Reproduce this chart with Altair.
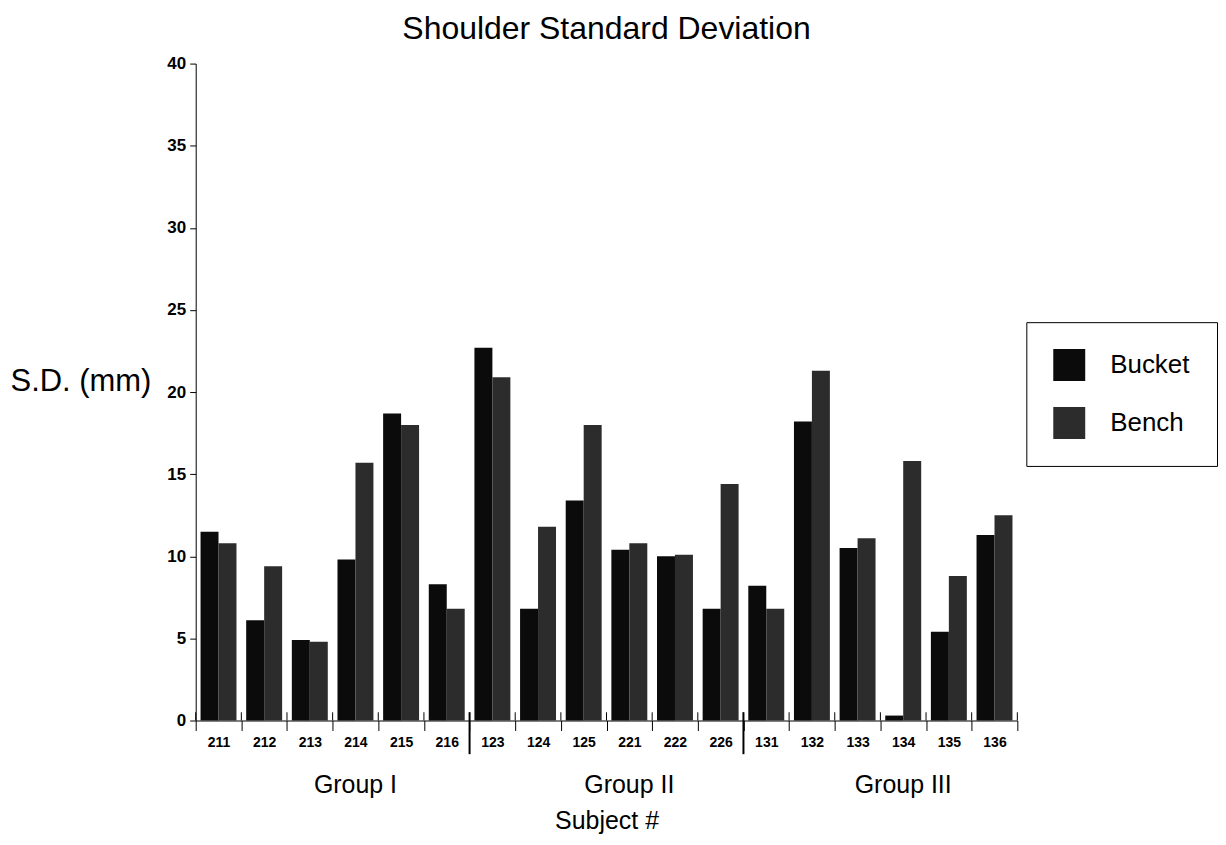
import altair as alt
import pandas as pd

subjects = ["211", "212", "213", "214", "215", "216",
            "123", "124", "125", "221", "222", "226",
            "131", "132", "133", "134", "135", "136"]
bucket = [11.5, 6.1, 4.9, 9.8, 18.7, 8.3,
          22.7, 6.8, 13.4, 10.4, 10.0, 6.8,
          8.2, 18.2, 10.5, 0.3, 5.4, 11.3]
bench = [10.8, 9.4, 4.8, 15.7, 18.0, 6.8,
         20.9, 11.8, 18.0, 10.8, 10.1, 14.4,
         6.8, 21.3, 11.1, 15.8, 8.8, 12.5]
series = ["Bucket", "Bench"]
series_colors = ["#0b0b0b", "#2c2c2c"]
y_ticks = [0, 5, 10, 15, 20, 25, 30, 35, 40]

group_names = ["Group I", "Group II", "Group III"]
group_anchor = ["214", "221", "134"]
group_start = ["123", "131"]

FONT = "Liberation Sans"

rows = []
for s, a, b in zip(subjects, bucket, bench):
    rows.append({"subject": s, "series": "Bucket", "sd": a})
    rows.append({"subject": s, "series": "Bench", "sd": b})
df = pd.DataFrame(rows)

xscale = alt.Scale(domain=subjects, paddingInner=0, paddingOuter=0)
yscale = alt.Scale(domain=[0, 40], nice=False, zero=True)

xaxis = alt.Axis(title="Subject #", labelAngle=0, tickBand="extent",
                 tickSize=10, labelPadding=5, labelFontSize=14,
                 labelFontWeight="bold", titleFontSize=25,
                 titleFontWeight="normal", titlePadding=59,
                 domainColor="black", tickColor="black",
                 labelColor="black", titleColor="black")
yaxis = alt.Axis(title="S.D. (mm)", values=y_ticks, grid=False,
                 tickSize=6, labelPadding=4, labelFontSize=17,
                 labelFontWeight="bold", titleAngle=0, titleAlign="left",
                 titleBaseline="middle", titleX=-186, titleY=318,
                 titleFontSize=31, titleFontWeight="normal",
                 domainColor="black", tickColor="black",
                 labelColor="black", titleColor="black")

bars = alt.Chart(df).mark_bar().encode(
    x=alt.X("subject:N", scale=xscale, sort=subjects, axis=xaxis),
    xOffset=alt.XOffset("series:N",
                        scale=alt.Scale(domain=series, paddingInner=0, paddingOuter=0.27)),
    y=alt.Y("sd:Q", scale=yscale, axis=yaxis),
    color=alt.Color("series:N",
                    scale=alt.Scale(domain=series, range=series_colors),
                    legend=alt.Legend(title=None, orient="none", legendX=832, legendY=259,
                                      symbolType="square", symbolSize=1024,
                                      symbolStrokeWidth=0, labelFontSize=26,
                                      labelOffset=25, rowPadding=26, padding=27,
                                      fillColor="white", strokeColor="black",
                                      labelColor="black", labelFont=FONT)),
)

sep_df = pd.DataFrame({"subject": group_start, "y1": [-2.05, -2.05], "y2": [0.5, 0.5]})
separators = alt.Chart(sep_df).mark_rule(color="black", strokeWidth=2).encode(
    x=alt.X("subject:N", scale=xscale, sort=subjects, bandPosition=0, axis=xaxis),
    y=alt.Y("y1:Q", scale=yscale, axis=yaxis),
    y2="y2:Q",
)

tick_df = pd.DataFrame({"subject": subjects, "y1": [0.0] * len(subjects), "y2": [0.5] * len(subjects)})
up_ticks = alt.Chart(tick_df).mark_rule(color="black", strokeWidth=1).encode(
    x=alt.X("subject:N", scale=xscale, sort=subjects, bandPosition=0, axis=xaxis),
    y=alt.Y("y1:Q", scale=yscale, axis=yaxis),
    y2="y2:Q",
)
end_df = pd.DataFrame({"subject": [subjects[-1]], "y1": [0.0], "y2": [0.5]})
end_tick = alt.Chart(end_df).mark_rule(color="black", strokeWidth=1).encode(
    x=alt.X("subject:N", scale=xscale, sort=subjects, bandPosition=1, axis=xaxis),
    y=alt.Y("y1:Q", scale=yscale, axis=yaxis),
    y2="y2:Q",
)

grp_df = pd.DataFrame({"subject": group_anchor, "name": group_names, "y": [-3.9] * 3})
groups = alt.Chart(grp_df).mark_text(fontSize=25, font=FONT, color="black",
                                     baseline="middle", align="center").encode(
    x=alt.X("subject:N", scale=xscale, sort=subjects, axis=xaxis),
    y=alt.Y("y:Q", scale=yscale, axis=yaxis),
    text="name:N",
)

chart = alt.layer(bars, separators, up_ticks, end_tick, groups).properties(
    width=823, height=658,
    title=alt.TitleParams("Shoulder Standard Deviation", fontSize=32, font=FONT,
                          fontWeight="normal", color="black", offset=9),
    padding={"left": 2, "top": 4, "right": 0, "bottom": 0},
).configure(font=FONT, view=alt.ViewConfig(stroke=None))

chart.save("out.html", embed_options={"renderer": "svg", "actions": False})
